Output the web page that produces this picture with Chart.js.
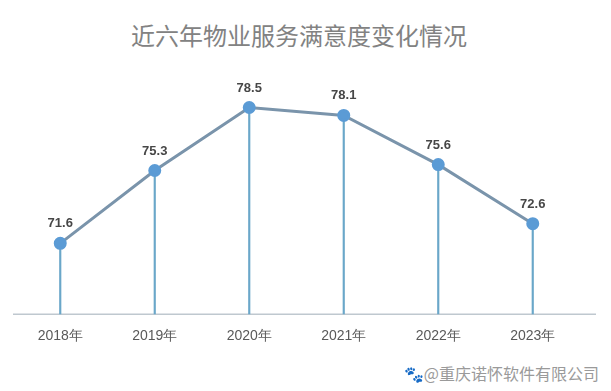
<!DOCTYPE html>
<html>
<head>
<meta charset="utf-8">
<script src="https://cdn.jsdelivr.net/npm/chart.js@4"></script>
<style>
  html, body { margin: 0; padding: 0; background: #fff; }
  #wrap { position: relative; width: 611px; height: 391px; }
  .title { position: absolute; left: 0; top: 17px; width: 598px; text-align: center;
    font-family: "Noto Sans CJK SC", sans-serif; font-size: 24px; color: #828282; }
  .mark { position: absolute; right: 12px; top: 361px;
    font-family: "Noto Sans CJK SC", sans-serif; font-size: 16px; color: #9a9a9a; }
  #box { position: absolute; left: 0; top: 70px; width: 611px; height: 289px; }
</style>
</head>
<body>
<div id="wrap">
  <div class="title">近六年物业服务满意度变化情况</div>
  <div id="box"><canvas id="c"></canvas></div>
  <div class="mark">🐾@重庆诺怀软件有限公司</div>
</div>
<script>
// years and satisfaction scores
const years = ['2018年', '2019年', '2020年', '2021年', '2022年', '2023年'];
const scores = [71.6, 75.3, 78.5, 78.1, 75.6, 72.6];

// value above each point + a slightly longer base line
const extras = {
  id: 'extras',
  beforeDatasetsDraw(chart) {
    const ctx = chart.ctx;
    const a = chart.chartArea;
    ctx.save();
    ctx.strokeStyle = '#bfc8cf';
    ctx.lineWidth = 1.5;
    ctx.beginPath();
    ctx.moveTo(a.left, a.bottom);
    ctx.lineTo(a.right + 16, a.bottom);
    ctx.stroke();
    ctx.restore();
  },
  afterDatasetsDraw(chart) {
    const ctx = chart.ctx;
    const meta = chart.getDatasetMeta(1);
    ctx.save();
    ctx.font = 'bold 13px "Liberation Sans", Arial, sans-serif';
    ctx.fillStyle = '#474747';
    ctx.textAlign = 'center';
    ctx.textBaseline = 'bottom';
    meta.data.forEach((pt, i) => {
      ctx.fillText(scores[i].toFixed(1), pt.x, pt.y - 13);
    });
    ctx.restore();
  }
};

new Chart(document.getElementById('c'), {
  data: {
    labels: years,
    datasets: [
      {
        // thin drop lines from each point to the axis
        type: 'bar',
        data: scores,
        backgroundColor: '#6aa7c9',
        barThickness: 1.5,
        order: 2
      },
      {
        type: 'line',
        data: scores,
        borderColor: '#7a94ab',
        borderWidth: 3,
        pointBackgroundColor: '#5b9bd5',
        pointBorderColor: '#5b9bd5',
        pointRadius: 5,
        order: 1
      }
    ]
  },
  options: {
    responsive: true,
    maintainAspectRatio: false,
    animation: false,
    layout: { padding: { left: 13, right: 31, top: 0, bottom: 0 } },
    plugins: { legend: { display: false }, tooltip: { enabled: false } },
    scales: {
      x: {
        offset: true,
        grid: { display: false, drawTicks: false },
        border: { display: false },
        ticks: { color: '#595959', padding: 14, font: { size: 14, family: '"Liberation Sans", Arial, sans-serif' } }
      },
      y: {
        min: 68,
        max: 80,
        display: false
      }
    }
  },
  plugins: [extras]
});
</script>
</body>
</html>
